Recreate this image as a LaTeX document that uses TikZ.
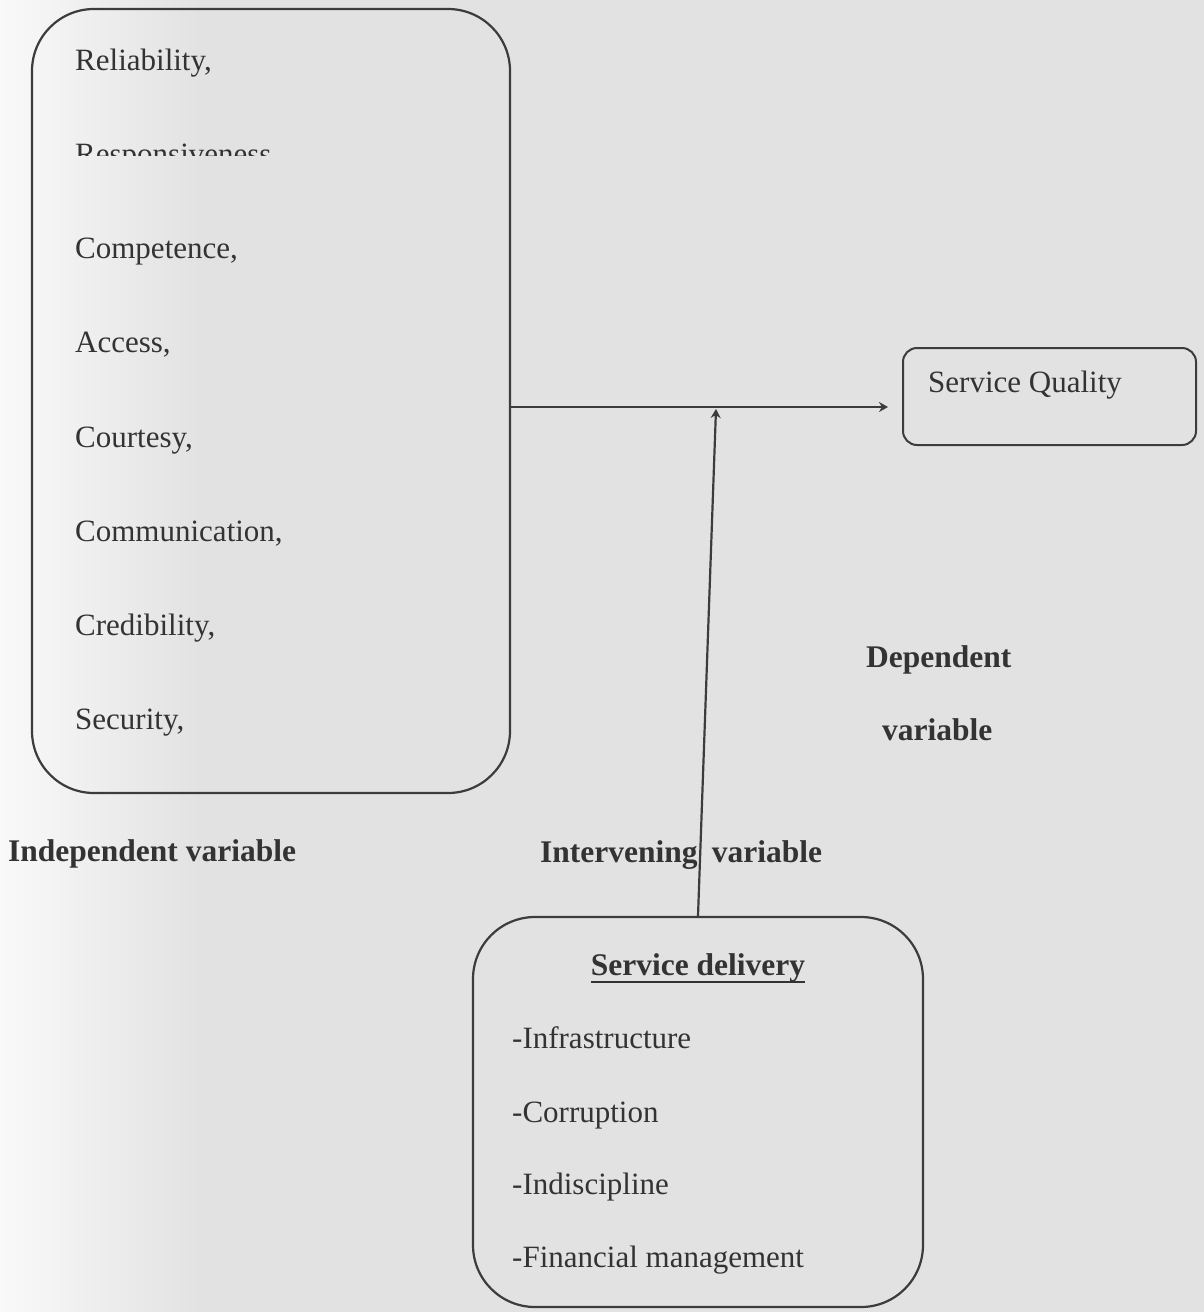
\documentclass[tikz,border=0pt]{standalone}
\usepackage{fontspec}
\setmainfont{Liberation Serif}
\usetikzlibrary{arrows.meta}
\definecolor{bgcol}{HTML}{E2E2E2}
\definecolor{inkcol}{HTML}{333333}
\definecolor{linecol}{HTML}{3C3C3C}
\begin{document}
\begin{tikzpicture}[x=1pt,y=-1pt,
  txt/.style={inner sep=0pt, text=inkcol, font=\fontsize{31}{37}\selectfont},
  btxt/.style={inner sep=0pt, text=inkcol, font=\fontsize{31.5}{37}\selectfont\bfseries},
  bigbox/.style={draw=linecol, line width=2.2pt, rounded corners=62pt, inner sep=0pt},
  smallbox/.style={draw=linecol, line width=2pt, rounded corners=14pt, inner sep=0pt},
  conn/.style={draw=linecol, line width=2.2pt},
  arr/.style={conn, -{Stealth[length=9pt,width=10pt]}}
]
\useasboundingbox (0,0) rectangle (1204,1312);
\fill[bgcol] (0,0) rectangle (1204,1312);
\shade[left color=white!80!bgcol, right color=bgcol, middle color=white!40!bgcol] (0,0) rectangle (200,1312);

% boxes
\node[bigbox, minimum width=478pt, minimum height=784pt] (indep) at (271,401) {};
\node[smallbox, minimum width=293pt, minimum height=97pt] (sq) at (1049.5,396.5) {};
\node[bigbox, minimum width=450pt, minimum height=390pt] (deliv) at (698,1112) {};

% left box items
\node[txt, anchor=base west] (rel) at (75,70) {Reliability,};
\begin{scope}
  \clip (60,128) rectangle (320,155);
  \node[txt, anchor=base west] (resp) at (75,164) {Responsiveness,};
\end{scope}
\node[txt, anchor=base west] (comp) at (75,258) {Competence,};
\node[txt, anchor=base west] (acc) at (75,352) {Access,};
\node[txt, anchor=base west] (cour) at (75,447) {Courtesy,};
\node[txt, anchor=base west] (comm) at (75,541) {Communication,};
\node[txt, anchor=base west] (cred) at (75,635) {Credibility,};
\node[txt, anchor=base west] (sec) at (75,729) {Security,};

% service quality
\node[txt, anchor=base west] (sqt) at (928,392) {Service Quality};

% bottom box items
\node[btxt, anchor=base] (sd) at (698,975) {Service delivery};
\draw[draw=inkcol, line width=2pt] ([yshift=-7pt]sd.base west) -- ([yshift=-7pt]sd.base east);
\node[txt, anchor=base west] (inf) at (512,1048) {-Infrastructure};
\node[txt, anchor=base west] (cor) at (512,1122) {-Corruption};
\node[txt, anchor=base west] (ind) at (512,1194) {-Indiscipline};
\node[txt, anchor=base west] (fin) at (512,1267) {-Financial management};

% labels
\node[btxt, anchor=base west] (lindep) at (8,861) {Independent variable};
\node[btxt, anchor=base west] (linter) at (540,862) {Intervening\hspace{0.45em}variable};
\node[btxt, anchor=base west] (ldep1) at (866,667) {Dependent};
\node[btxt, anchor=base west] (ldep2) at (882,740) {variable};

% connectors
\coordinate (h0) at (indep.east |- 0,407);
\coordinate (h1) at (888,407);
\coordinate (vtop) at (716,409);
\draw[arr] (h0) -- (h1);
\draw[arr] (deliv.north) -- (vtop);
\end{tikzpicture}
\end{document}
